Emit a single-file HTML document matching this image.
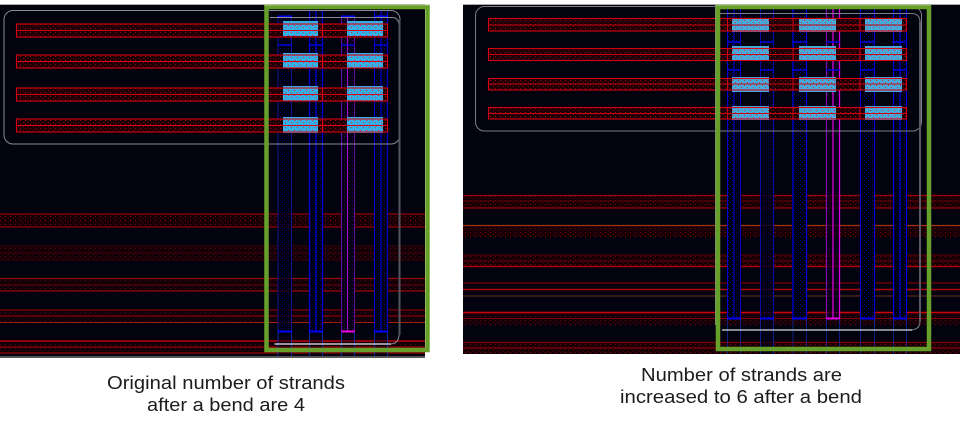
<!DOCTYPE html>
<html><head><meta charset="utf-8"><style>
html,body{margin:0;padding:0;background:#fff;width:960px;height:430px;overflow:hidden}
svg{display:block}
text{font-family:"Liberation Sans",sans-serif;font-size:18px;fill:#1c1c1c}
</style></head><body>
<svg width="960" height="430" viewBox="0 0 960 430" xmlns="http://www.w3.org/2000/svg">
<defs>
<pattern id="hr" width="5" height="4" patternUnits="userSpaceOnUse">
<rect width="5" height="4" fill="#1c0006"/>
<rect x="0" y="0" width="1" height="1" fill="#a8000c"/>
<rect x="3" y="2" width="1" height="1" fill="#70000a"/>
</pattern>
<pattern id="hd" width="5" height="4" patternUnits="userSpaceOnUse">
<rect width="5" height="4" fill="#160006"/>
<rect x="0" y="0" width="1" height="1" fill="#8c000c"/>
<rect x="3" y="2" width="1" height="1" fill="#50000a"/>
</pattern>
<pattern id="hc" width="6" height="5" patternUnits="userSpaceOnUse">
<rect x="0" y="0" width="1" height="1" fill="#d02838"/>
<rect x="3" y="2" width="1" height="1" fill="#c04050"/>
</pattern>
<pattern id="hb" width="4" height="4" patternUnits="userSpaceOnUse">
<rect width="4" height="4" fill="#00000f"/>
<rect x="0" y="0" width="1" height="1" fill="#000098"/>
<rect x="2" y="2" width="1" height="1" fill="#000068"/>
</pattern>
<pattern id="hm" width="4" height="4" patternUnits="userSpaceOnUse">
<rect width="4" height="4" fill="#060012"/>
<rect x="0" y="0" width="1" height="1" fill="#220080"/>
<rect x="2" y="2" width="1" height="1" fill="#200058"/>
</pattern>
</defs>

<!-- LEFT PANEL -->
<rect x="0" y="4" width="425" height="352" fill="#03030f"/>
<rect x="0" y="4" width="425" height="1" fill="#aaa"/>
<rect x="0" y="356" width="425" height="2" fill="#555"/>

<!-- lower horizontal bundles left -->
<g>
<rect x="0" y="214" width="425" height="13" fill="url(#hd)"/>
<path d="M0 214H425M0 227H425" stroke="#8c0008" stroke-width="1.2"/>
<rect x="0" y="246" width="425" height="14" fill="url(#hd)" opacity=".8"/>
<path d="M0 246H425M0 253H425M0 260H425" stroke="#3c0006" stroke-width="1"/>
<rect x="0" y="278" width="425" height="13" fill="url(#hd)" opacity=".7"/>
<path d="M0 278.500H425M0 291H425" stroke="#980808" stroke-width="1.2"/>
<path d="M0 285H425" stroke="#600008" stroke-width="1"/>
<rect x="0" y="310" width="425" height="12" fill="url(#hd)" opacity=".6"/>
<path d="M0 310H425M0 316H425" stroke="#800008" stroke-width="1.2"/>
<path d="M0 322.500H425" stroke="#a02008" stroke-width="1"/>
<rect x="0" y="341" width="425" height="13" fill="url(#hd)" opacity=".7"/>
<path d="M0 341H425" stroke="#c00008" stroke-width="1.6"/>
<path d="M0 347H425M0 353H425" stroke="#980008" stroke-width="1.2"/>
</g>

<!-- vertical strands left -->
<g fill="none">
<rect x="278" y="16" width="14" height="316" fill="url(#hb)" opacity=".8"/>
<rect x="309" y="10" width="14" height="322" fill="url(#hb)"/>
<rect x="341" y="16" width="14" height="316" fill="url(#hm)"/>
<rect x="374" y="10" width="14" height="322" fill="url(#hb)"/>
<rect x="278" y="332" width="14" height="24" fill="url(#hb)" opacity=".4"/>
<rect x="309" y="332" width="14" height="24" fill="url(#hb)" opacity=".4"/>
<rect x="341" y="332" width="14" height="24" fill="url(#hm)" opacity=".4"/>
<rect x="374" y="332" width="14" height="24" fill="url(#hb)" opacity=".4"/>
<path d="M278 16V332M291.500 16V332" stroke="#0a148c" stroke-width="1"/>
<path d="M309.500 10V332M316 10V332M322.500 10V332" stroke="#0000e0" stroke-width="1.2"/>
<path d="M341.500 16V332M354.500 16V332" stroke="#60109c" stroke-width="1"/>
<path d="M347.500 16V332" stroke="#a010c0" stroke-width="1"/>
<path d="M374.500 10V332M381 10V332M387.500 10V332" stroke="#0000d0" stroke-width="1.1"/>
<path d="M278 331.500H292M309 331.500H323M374 331.500H388" stroke="#0000ff" stroke-width="2"/>
<path d="M341 331.500H355" stroke="#f000e0" stroke-width="2"/>
<path d="M278 16.500H292M341 16.500H355M374 16.500H388" stroke="#0000ff" stroke-width="2"/>
<path d="M278 45H292M309 45H323M341 45H355M374 45H388" stroke="#0000e0" stroke-width="1.5"/>
<path d="M278 332V356M291.500 332V356M309.500 332V356M322.500 332V356M341.500 332V356M354.500 332V356M374.500 332V356M387.500 332V356" stroke="#0a2aa0" stroke-width="1"/>
</g>

<!-- rows left -->
<g fill="url(#hr)">
<rect x="16.500" y="24" width="371" height="13"/>
<rect x="16.500" y="55" width="371" height="13"/>
<rect x="16.500" y="88" width="371" height="13"/>
<rect x="16.500" y="119" width="371" height="13"/>
</g>

<!-- cells left -->
<g fill="#35aee6">
<rect x="283" y="21" width="35" height="15"/><rect x="347" y="21" width="36" height="15"/>
<rect x="283" y="53" width="35" height="15"/><rect x="347" y="53" width="36" height="15"/>
<rect x="283" y="86" width="35" height="15"/><rect x="347" y="86" width="36" height="15"/>
<rect x="283" y="117" width="35" height="16"/><rect x="347" y="117" width="36" height="16"/>
</g>
<g fill="url(#hc)">
<rect x="283" y="24" width="35" height="12"/><rect x="347" y="24" width="36" height="12"/>
<rect x="283" y="55" width="35" height="13"/><rect x="347" y="55" width="36" height="13"/>
<rect x="283" y="88" width="35" height="13"/><rect x="347" y="88" width="36" height="13"/>
<rect x="283" y="119" width="35" height="13"/><rect x="347" y="119" width="36" height="13"/>
</g>

<g fill="none" stroke="#d80010" stroke-width="1.1">
<rect x="16.500" y="24" width="371" height="13"/>
<rect x="16.500" y="55" width="371" height="13"/>
<rect x="16.500" y="88" width="371" height="13"/>
<rect x="16.500" y="119" width="371" height="13"/>
</g>
<path d="M17 30.500H387M17 61.500H387M17 94.500H387M17 125.500H387" stroke="#d80010" stroke-width="1"/>
<path d="M322.500 24V37M322.500 55V68M322.500 88V101M322.500 119V132" stroke="#e00010" stroke-width="1.2"/>

<!-- white outlines left -->
<g fill="none" stroke="#8a8a96" stroke-width="1">
<rect x="4" y="10.500" width="396" height="133.500" rx="9"/>
<path d="M270 17.500H392Q399 17.500 399 26V334Q399 344 390 344H274"/>
</g>
<path d="M275 344H391" stroke="#c8c8c8" stroke-width="1.6"/>
<path d="M399.500 20V335" stroke="#55555f" stroke-width="2"/>

<!-- green left -->
<rect x="266.500" y="7" width="161" height="343" fill="none" stroke="#66a02a" stroke-width="4.500"/>
<rect x="264" y="4.500" width="166" height="1" fill="#a8cc84"/>

<!-- RIGHT PANEL -->
<rect x="463" y="4" width="497" height="350" fill="#03030f"/>
<rect x="463" y="4" width="497" height="1" fill="#aaa"/>

<!-- lower horizontal bundles right -->
<g>
<rect x="463" y="195" width="497" height="13" fill="url(#hd)"/>
<path d="M463 195.500H960M463 208H960" stroke="#980008" stroke-width="1.2"/>
<path d="M463 201H960" stroke="#5c0008" stroke-width="1"/>
<rect x="463" y="225" width="497" height="12" fill="url(#hd)"/>
<path d="M463 225.500H960" stroke="#a03010" stroke-width="1.2"/>
<rect x="463" y="255" width="497" height="12" fill="url(#hd)"/>
<path d="M463 255H960M463 261H960" stroke="#600008" stroke-width="1"/>
<path d="M463 266.500H960" stroke="#b00008" stroke-width="1.4"/>
<path d="M463 283H960" stroke="#780008" stroke-width="1.2"/>
<path d="M463 289.500H960" stroke="#b00810" stroke-width="1.4"/>
<path d="M463 296H960" stroke="#6a3024" stroke-width="1"/>
<rect x="463" y="312" width="497" height="13" fill="url(#hd)" opacity=".8"/>
<path d="M463 312.500H960" stroke="#d00008" stroke-width="1.6"/>
<path d="M463 318.500H960" stroke="#800008" stroke-width="1"/>
<rect x="463" y="342" width="497" height="12" fill="url(#hd)"/>
<path d="M463 342.500H960M463 348H960" stroke="#800008" stroke-width="1.2"/>
</g>

<!-- vertical strands right -->
<g fill="none">
<rect x="727" y="8" width="14" height="311" fill="url(#hb)"/>
<rect x="760" y="8" width="14" height="311" fill="url(#hb)" opacity=".8"/>
<rect x="792" y="8" width="15" height="311" fill="url(#hb)"/>
<rect x="826" y="8" width="14" height="311" fill="url(#hm)" opacity=".7"/>
<rect x="860" y="8" width="15" height="311" fill="url(#hb)"/>
<rect x="893" y="8" width="14" height="311" fill="url(#hb)"/>
<rect x="760" y="319" width="14" height="35" fill="url(#hb)" opacity=".6"/>
<path d="M727.500 8V319M734 8V319M740.500 8V319" stroke="#0000d0" stroke-width="1"/>
<path d="M760.500 8V319M773.500 8V319" stroke="#0a0aa8" stroke-width="1"/>
<path d="M793 8V319M806.500 8V319" stroke="#0000e0" stroke-width="1.2"/>
<path d="M826.500 8V319" stroke="#8010b0" stroke-width="1.2"/>
<path d="M833 8V319M839.500 8V319" stroke="#d800d8" stroke-width="1.3"/>
<path d="M860.500 8V319M874.500 8V319" stroke="#0000e0" stroke-width="1.1"/>
<path d="M893.500 8V319M900 8V319M906.500 8V319" stroke="#0000e8" stroke-width="1.1"/>
<path d="M727 318.500H741M760 318.500H774M792 318.500H807M860 318.500H875M893 318.500H907" stroke="#0000f0" stroke-width="2"/>
<path d="M826 318.500H840" stroke="#e000e0" stroke-width="2"/>
<path d="M727 42H741M760 42H774M792 42H807M826 42H840M860 42H875M893 42H907M727 70H741M760 70H774M792 70H807M826 70H840M860 70H875M893 70H907" stroke="#0000e0" stroke-width="1.5"/>
<g opacity=".65" stroke-width="1">
<path d="M727.500 319V354M740.500 319V354M760.500 319V354M773.500 319V354M793 319V354M806.500 319V354M826.500 319V354M839.500 319V354M860.500 319V354M874.500 319V354M893.500 319V354M906.500 319V354" stroke="#1030c0"/>
</g>
</g>

<!-- rows right -->
<g fill="url(#hr)">
<rect x="488.500" y="18.500" width="418" height="12.500"/>
<rect x="488.500" y="48.500" width="418" height="12"/>
<rect x="488.500" y="78.500" width="418" height="11.500"/>
<rect x="488.500" y="107.500" width="418" height="11.500"/>
</g>

<!-- cells right -->
<g fill="#45aadc">
<rect x="732" y="18" width="37" height="14"/><rect x="799" y="18" width="37" height="14"/><rect x="865" y="18" width="37" height="14"/>
<rect x="732" y="46" width="37" height="15"/><rect x="799" y="46" width="37" height="15"/><rect x="865" y="46" width="37" height="15"/>
<rect x="732" y="77" width="37" height="15"/><rect x="799" y="77" width="37" height="15"/><rect x="865" y="77" width="37" height="15"/>
<rect x="732" y="106" width="37" height="14"/><rect x="799" y="106" width="37" height="14"/><rect x="865" y="106" width="37" height="14"/>
</g>
<g fill="url(#hc)">
<rect x="732" y="19" width="37" height="12"/><rect x="799" y="19" width="37" height="12"/><rect x="865" y="19" width="37" height="12"/>
<rect x="732" y="49" width="37" height="11"/><rect x="799" y="49" width="37" height="11"/><rect x="865" y="49" width="37" height="11"/>
<rect x="732" y="79" width="37" height="11"/><rect x="799" y="79" width="37" height="11"/><rect x="865" y="79" width="37" height="11"/>
<rect x="732" y="108" width="37" height="11"/><rect x="799" y="108" width="37" height="11"/><rect x="865" y="108" width="37" height="11"/>
</g>

<g fill="none" stroke="#d80010" stroke-width="1.1">
<rect x="488.500" y="18.500" width="418" height="12.500"/>
<rect x="488.500" y="48.500" width="418" height="12"/>
<rect x="488.500" y="78.500" width="418" height="11.500"/>
<rect x="488.500" y="107.500" width="418" height="11.500"/>
</g>
<path d="M489 25H906M489 54.500H906M489 84H906M489 113.500H906" stroke="#c80010" stroke-width="1"/>
<path d="M727.500 19V31M793 19V31M860 19V31M727.500 49V60M793 49V60M860 49V60M727.500 79V90M793 79V90M860 79V90M727.500 108V119M793 108V119M860 108V119" stroke="#d00010" stroke-width="1"/>

<!-- white outlines right -->
<g fill="none" stroke="#7c7c88" stroke-width="1">
<rect x="475.500" y="6.500" width="446" height="124.500" rx="9"/>
<path d="M720 13.500H911Q920 13.500 920 22V321Q920 330 910 330H722"/>
</g>
<path d="M722 330H912" stroke="#b4b4bc" stroke-width="1.4"/>
<path d="M920 22V322" stroke="#5a5a64" stroke-width="2"/>
<path d="M716 5V325" stroke="#7a8a78" stroke-width="2"/>

<!-- green right -->
<rect x="718" y="7" width="211" height="342" fill="none" stroke="#66a02a" stroke-width="4.500"/>
<rect x="716" y="4.500" width="215" height="1" fill="#a8cc84"/>

<!-- captions -->
<text x="107" y="389" textLength="238" lengthAdjust="spacingAndGlyphs">Original number of strands</text>
<text x="147" y="411" textLength="158" lengthAdjust="spacingAndGlyphs">after a bend are 4</text>
<text x="641" y="381" textLength="201" lengthAdjust="spacingAndGlyphs">Number of strands are</text>
<text x="620" y="403" textLength="242" lengthAdjust="spacingAndGlyphs">increased to 6 after a bend</text>
</svg>
</body></html>
